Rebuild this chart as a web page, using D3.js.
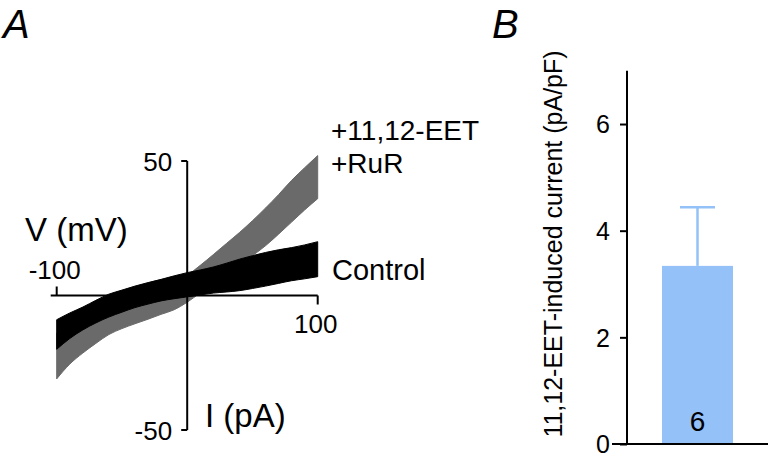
<!DOCTYPE html>
<html>
<head>
<meta charset="utf-8">
<script src="https://cdn.jsdelivr.net/npm/d3@7"></script>
<style>
  body { margin: 0; background: #fff; }
  text { font-family: "Liberation Sans", Arial, sans-serif; fill: #000; }
</style>
</head>
<body>
<div id="chart"></div>
<script>
var svgWidth = 770;
var svgHeight = 460;

// PANEL A DATA (envelopes of the noisy I-V traces)
var voltage = [-100, -90, -80, -70, -60, -50, -40, -30, -20, -10, 0, 10, 20, 30, 40, 50, 60, 70, 80, 90, 100];
var controlUpper = [-9, -6.5, -4.3, -1.8, 0.5, 2, 3.5, 4.8, 6, 7.3, 8.5, 9.5, 10.6, 12, 13.5, 14.8, 16, 17, 17.8, 18.8, 20];
var controlLower = [-20, -16, -12.8, -10.2, -8, -6.2, -4.5, -3.2, -2, -1.2, -0.5, 0.2, 0.9, 1.3, 1.8, 2.6, 3.5, 4.5, 5.5, 6.2, 7];
var eetUpper = [-14, -11, -8.4, -6.3, -4.5, -3, -1.5, 0.5, 2.5, 4.8, 7.5, 11.2, 15.2, 19.3, 23.4, 27.8, 32.5, 37.5, 42.8, 47.5, 52];
var eetLower = [-31, -25.5, -21.4, -17.8, -14.5, -12.3, -10.5, -8.8, -7, -5.3, -2.5, 1, 4.6, 8, 11.3, 14.8, 18.5, 22.8, 27.3, 31.8, 36];
var xTicks = [-100, 100];
var yTicks = [-50, 50];

// PANEL B DATA
var barLabels = ["6"];
var barValues = [3.34];
var barErrors = [1.1];
var barTicks = [0, 2, 4, 6];

var svg = d3.select("#chart")
  .append("svg")
  .attr("width", svgWidth)
  .attr("height", svgHeight);

// ---------------- PANEL A ----------------
var xScale = d3.scaleLinear().domain([-100, 100]).range([56.7, 317.7]);
var yScale = d3.scaleLinear().domain([-50, 50]).range([430, 161]);

var traceA = svg.append("g");

function band(upper, lower) {
  return d3.area()
    .x((d, i) => xScale(voltage[i]))
    .y0((d, i) => yScale(lower[i]))
    .y1((d, i) => yScale(upper[i]))
    .curve(d3.curveMonotoneX)(voltage);
}

traceA.append("path")
  .attr("d", band(eetUpper, eetLower))
  .attr("fill", "#6a6a6a")
  .attr("stroke", "#6a6a6a")
  .attr("stroke-width", 1);

traceA.append("path")
  .attr("d", band(controlUpper, controlLower))
  .attr("fill", "#000")
  .attr("stroke", "#000")
  .attr("stroke-width", 1);

// AXES THROUGH THE ORIGIN
var axisA = svg.append("g")
  .attr("stroke", "#000")
  .attr("stroke-width", 2)
  .attr("fill", "none");

axisA.append("line")
  .attr("x1", xScale(-100) - 6).attr("x2", xScale(100))
  .attr("y1", yScale(0)).attr("y2", yScale(0));

axisA.append("line")
  .attr("x1", xScale(0)).attr("x2", xScale(0))
  .attr("y1", yScale(50)).attr("y2", yScale(-50));

axisA.selectAll(".xt")
  .data(xTicks)
  .enter()
  .append("line")
  .attr("x1", d => xScale(d)).attr("x2", d => xScale(d))
  .attr("y1", yScale(0))
  .attr("y2", d => d < 0 ? yScale(0) - 9 : yScale(0) + 9);

axisA.selectAll(".yt")
  .data(yTicks)
  .enter()
  .append("line")
  .attr("x1", xScale(0) - 6).attr("x2", xScale(0))
  .attr("y1", d => yScale(d)).attr("y2", d => yScale(d));

svg.selectAll(".xlab")
  .data(xTicks)
  .enter()
  .append("text")
  .attr("x", d => xScale(d) - 2)
  .attr("y", d => d < 0 ? yScale(0) - 17 : yScale(0) + 37)
  .attr("text-anchor", "middle")
  .style("font-size", "26px")
  .text(d => d);

svg.selectAll(".ylab")
  .data(yTicks)
  .enter()
  .append("text")
  .attr("x", xScale(0) - 15)
  .attr("y", d => yScale(d) + 10)
  .attr("text-anchor", "end")
  .style("font-size", "26px")
  .text(d => d);

svg.append("text")
  .attr("x", 25).attr("y", 241)
  .style("font-size", "33px")
  .text("V (mV)");

svg.append("text")
  .attr("x", 205).attr("y", 427)
  .style("font-size", "33px")
  .text("I (pA)");

svg.append("text")
  .attr("x", 331).attr("y", 140)
  .style("font-size", "28px")
  .text("+11,12-EET");

svg.append("text")
  .attr("x", 331).attr("y", 173)
  .style("font-size", "28px")
  .text("+RuR");

svg.append("text")
  .attr("x", 332).attr("y", 280)
  .style("font-size", "29px")
  .text("Control");

svg.append("text")
  .attr("x", 3).attr("y", 38)
  .style("font-size", "40px")
  .style("font-style", "italic")
  .text("A");

// ---------------- PANEL B ----------------
var bx = d3.scaleBand().domain(barLabels).range([627, 768]).paddingInner(0).paddingOuter(0.25);
var by = d3.scaleLinear().domain([0, 7]).range([444, 70.7]);
var barW = 71;

var chartB = svg.append("g");

chartB.selectAll("rect")
  .data(barValues)
  .enter()
  .append("rect")
  .attr("x", (d, i) => bx(barLabels[i]) + bx.bandwidth() / 2 - barW / 2)
  .attr("y", d => by(d))
  .attr("width", barW)
  .attr("height", d => by(0) - by(d))
  .attr("fill", "#94c1f7");

var errG = chartB.append("g")
  .attr("stroke", "#94c1f7")
  .attr("stroke-width", 2.5);

barValues.forEach(function(v, i) {
  var cx = bx(barLabels[i]) + bx.bandwidth() / 2;
  errG.append("line")
    .attr("x1", cx).attr("x2", cx)
    .attr("y1", by(v)).attr("y2", by(v + barErrors[i]));
  errG.append("line")
    .attr("x1", cx - 17.5).attr("x2", cx + 17.5)
    .attr("y1", by(v + barErrors[i])).attr("y2", by(v + barErrors[i]));
});

chartB.selectAll(".n")
  .data(barLabels)
  .enter()
  .append("text")
  .attr("x", d => bx(d) + bx.bandwidth() / 2)
  .attr("y", 431)
  .attr("text-anchor", "middle")
  .style("font-size", "28px")
  .text(d => d);

var yAxisB = chartB.append("g")
  .attr("transform", "translate(627,0)")
  .attr("font-size", 25)
  .call(d3.axisLeft(by).tickValues(barTicks).tickFormat(d3.format("d"))
    .tickSize(7).tickPadding(10).tickSizeOuter(0));

yAxisB.select(".domain").remove();
yAxisB.selectAll("line").attr("stroke", "#000").attr("stroke-width", 2);
yAxisB.selectAll("text")
  .style("font-size", "25px")
  .style("font-family", "'Liberation Sans', Arial, sans-serif")
  .attr("dy", "0.35em");

chartB.append("line")
  .attr("x1", 627).attr("x2", 627)
  .attr("y1", by(7)).attr("y2", by(0))
  .attr("stroke", "#000").attr("stroke-width", 2);

chartB.append("line")
  .attr("x1", 612).attr("x2", 768)
  .attr("y1", by(0)).attr("y2", by(0))
  .attr("stroke", "#000").attr("stroke-width", 2);

chartB.append("text")
  .attr("transform", "translate(562,244) rotate(-90)")
  .attr("text-anchor", "middle")
  .style("font-size", "25px")
  .text("11,12-EET-induced current (pA/pF)");

svg.append("text")
  .attr("x", 492).attr("y", 38)
  .style("font-size", "40px")
  .style("font-style", "italic")
  .text("B");
</script>
</body>
</html>
